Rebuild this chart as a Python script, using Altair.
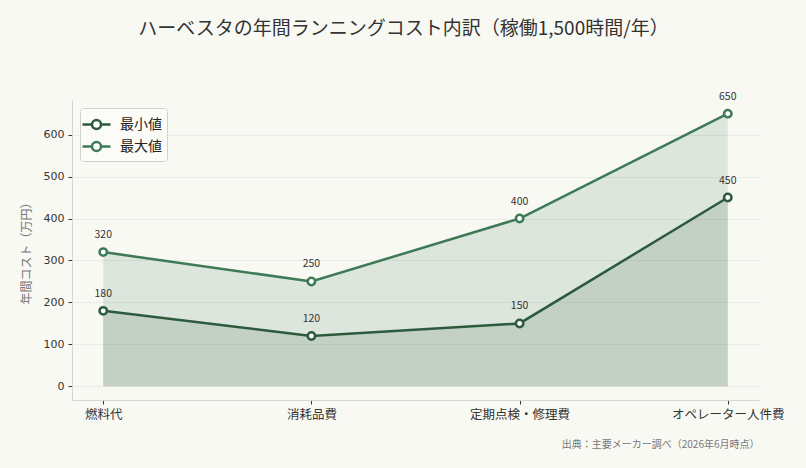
import altair as alt
import pandas as pd

# Annual running cost of a harvester, 1,500 operating hours per year (10k JPY)
categories = ["燃料代", "消耗品費", "定期点検・修理費", "オペレーター人件費"]
min_values = [180, 120, 150, 450]
max_values = [320, 250, 400, 650]
series_names = ["最小値", "最大値"]
series_colors = ["#2d5a3d", "#3d7a55"]

rows = []
for name, vals in zip(series_names, [min_values, max_values]):
    for c, v in zip(categories, vals):
        rows.append({"category": c, "series": name, "value": v,
                     "draw": 0 if name == "最大値" else 1})
df = pd.DataFrame(rows)

FONT = "Noto Sans CJK JP"

x_enc = alt.X(
    "category:N",
    sort=categories,
    scale=alt.Scale(type="point", padding=0.15),
    axis=alt.Axis(
        title="出典：主要メーカー調べ（2026年6月時点）",
        titleX=687,
        titleY=47,
        titleAlign="right",
        titleBaseline="alphabetic",
        titleFontSize=10,
        titleFontWeight="normal",
        titleColor="#777777",
        labelAngle=0,
        labelFontSize=12.5,
        labelColor="#333333",
        labelPadding=4,
        tickSize=4,
        tickColor="#333333",
        domainColor="#d4d4d4",
        grid=False,
    ),
)
y_scale = alt.Scale(domain=[-32.5, 682.5], nice=False, zero=False)
y_enc = alt.Y(
    "value:Q",
    scale=y_scale,
    axis=alt.Axis(
        title="年間コスト（万円）",
        titleFontSize=12,
        titleFontWeight="normal",
        titleColor="#777777",
        titlePadding=10,
        values=[0, 100, 200, 300, 400, 500, 600],
        labelFont="DejaVu Sans",
        labelFontSize=11,
        labelColor="#333333",
        labelPadding=4,
        tickSize=4,
        tickColor="#333333",
        domainColor="#d4d4d4",
        gridColor="#e6e6e2",
        gridWidth=0.8,
    ),
)
legend = alt.Legend(
    title=None,
    orient="top-left",
    offset=8,
    padding=5,
    fillColor="#fbfbf8",
    strokeColor="#d0d0d0",
    cornerRadius=3,
    labelFontSize=14,
    labelColor="#222222",
    labelOffset=12,
    rowPadding=1,
    symbolType="M-1.4,0L-0.45,0M0.45,0L1.4,0M0.45,0A0.45,0.45 0 1,1 -0.45,0A0.45,0.45 0 1,1 0.45,0",
    symbolSize=400,
    symbolStrokeWidth=2.5,
    symbolFillColor="#ffffff",
    symbolOpacity=1,
)
color_scale = alt.Scale(domain=series_names, range=series_colors)

base = alt.Chart(df)

areas = base.mark_area(opacity=0.15, line=False).encode(
    x=x_enc,
    y=alt.Y("value:Q", scale=y_scale, stack=None),
    y2=alt.datum(0),
    fill=alt.Fill("series:N", scale=color_scale, legend=None),
    detail="series:N",
    order=alt.Order("draw:Q"),
)

lines = base.mark_line(strokeWidth=2.5).encode(
    x=x_enc, y=y_enc,
    color=alt.Color("series:N", scale=color_scale, legend=legend),
)

points = base.mark_point(filled=True, fill="#ffffff", size=55, strokeWidth=2.5, opacity=1).encode(
    x=x_enc, y=alt.Y("value:Q", scale=y_scale),
    stroke=alt.Stroke("series:N", scale=color_scale, legend=None),
)

labels = base.mark_text(dy=-17, fontSize=10.5, color="#333333", font=FONT).encode(
    x=x_enc, y=alt.Y("value:Q", scale=y_scale), text="value:Q",
)

chart = (
    alt.layer(areas, lines, points, labels)
    .resolve_scale(fill="independent", stroke="independent")
    .properties(
        width=687,
        height=300,
        autosize=alt.AutoSizeParams(type="none"),
        padding={"left": 72, "top": 100, "right": 47, "bottom": 68},
        background="#f9f9f4",
        title=alt.TitleParams(
            "ハーベスタの年間ランニングコスト内訳（稼働1,500時間/年）",
            fontSize=19,
            fontWeight="normal",
            color="#333333",
            anchor="middle",
            dx=-12,
            offset=53,
            font=FONT,
        ),
    )
    .configure(font=FONT)
    .configure_view(stroke=None)
)

chart.save("out.html", embed_options={"renderer": "svg", "actions": False})
